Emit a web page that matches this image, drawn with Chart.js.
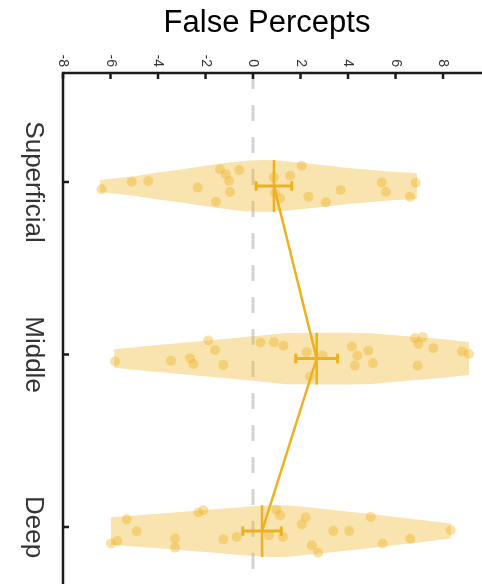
<!DOCTYPE html>
<html>
<head>
<meta charset="utf-8">
<script src="https://cdn.jsdelivr.net/npm/chart.js@4.4.1/dist/chart.umd.min.js"></script>
<style>
  html, body { margin: 0; padding: 0; background: #fff; }
  #wrap { width: 482px; height: 584px; }
</style>
</head>
<body>
<div id="wrap"><canvas id="myChart"></canvas></div>
<script>
// Layers, top to bottom
const categories = ['Superficial', 'Middle', 'Deep'];
const xTicks = [-8, -6, -4, -2, 0, 2, 4, 6, 8];

// mean and standard error per layer
const means = [0.88, 2.68, 0.38];
const errors = [0.75, 0.88, 0.81];

// single values (jitter is the vertical offset, in category units)
const superficialValues = [-6.37, -5.11, -4.41, -2.33, -1.56, -1.39, -1.14, -1.01, -0.97, -0.58, 0.88, 0.93, 1.14, 1.56, 2.05, 2.33, 3.07, 3.69, 5.42, 5.60, 6.61, 6.85];
const superficialJitter = [0.019, -0.025, -0.029, 0.008, 0.091, -0.097, -0.068, -0.029, 0.035, -0.093, -0.050, 0.042, 0.071, -0.060, -0.118, 0.062, 0.094, 0.023, -0.021, 0.033, 0.062, -0.019];

const middleValues = [-5.81, -3.45, -2.65, -2.51, -1.88, -1.60, -1.25, 0.32, 0.88, 1.28, 2.26, 2.40, 2.93, 4.16, 4.29, 4.39, 4.85, 5.04, 6.82, 6.93, 6.96, 7.15, 7.59, 8.79, 9.09];
const middleJitter = [0.017, 0.013, -0.002, 0.032, -0.104, -0.050, 0.037, -0.093, -0.095, -0.074, -0.037, 0.104, -0.017, -0.070, 0.041, -0.017, -0.045, 0.027, -0.118, 0.042, -0.085, -0.124, -0.060, -0.041, -0.026];

const deepValues = [-5.98, -5.71, -5.32, -4.90, -3.28, -3.28, -2.30, -2.09, -1.25, -0.69, 0.67, 0.98, 1.14, 1.26, 2.05, 2.22, 2.47, 2.74, 3.38, 4.05, 4.96, 5.46, 6.62, 8.32];
const deepJitter = [0.072, 0.058, -0.068, 0.001, 0.043, 0.096, -0.107, -0.121, 0.048, 0.034, 0.024, -0.123, -0.092, 0.034, -0.038, -0.078, 0.082, 0.125, -0.001, -0.001, -0.082, 0.072, 0.045, -0.005];

// violin outlines: position and relative density
const superficialViolinX = [-6.44, -5, -4, -3, -2, -1, -0.3, 0.5, 1.2, 2, 3, 4, 5, 6, 6.9];
const superficialViolinW = [0.23, 0.38, 0.52, 0.64, 0.78, 0.91, 0.98, 1.0, 0.98, 0.9, 0.8, 0.7, 0.62, 0.54, 0.5];
const middleViolinX = [-5.84, -4, -2, 0, 1.4, 3, 4, 5, 6, 7, 8, 9.09];
const middleViolinW = [0.36, 0.52, 0.69, 0.86, 0.99, 1.0, 1.0, 0.98, 0.9, 0.82, 0.74, 0.64];
const deepViolinX = [-5.98, -4, -2, 0, 0.8, 1.5, 2, 3, 4.5, 6, 7, 8.32];
const deepViolinW = [0.53, 0.67, 0.81, 0.96, 1.0, 0.99, 0.95, 0.85, 0.7, 0.54, 0.44, 0.29];

const DODGE = 0.023;   // data sits a bit below the tick
const HALF = 0.15;     // max half width of a violin
const CAP = 0.027;
const GOLD = 'rgb(237, 177, 32)';
const Y_MIN = 0.368, Y_MAX = 3.33;

const violins = [
  [superficialViolinX, superficialViolinW],
  [middleViolinX, middleViolinW],
  [deepViolinX, deepViolinW]
];
const values = [superficialValues, middleValues, deepValues];
const jitters = [superficialJitter, middleJitter, deepJitter];

function segment(points, width, order) {
  return { type: 'line', data: points, showLine: true, borderColor: GOLD, borderWidth: width,
           pointRadius: 0, fill: false, order: order };
}

const datasets = [];

// zero reference
datasets.push({ type: 'line', data: [{ x: 0, y: Y_MIN }, { x: 0, y: Y_MAX }], showLine: true,
  borderColor: '#d4d4d4', borderWidth: 3, borderDash: [16, 16], pointRadius: 0, fill: false, order: 10 });

categories.forEach((c, i) => {
  const pos = i + 1 + DODGE;
  const xs = violins[i][0], ws = violins[i][1];
  const up = xs.map((x, k) => ({ x: x, y: pos - ws[k] * HALF }));
  const down = xs.map((x, k) => ({ x: x, y: pos + ws[k] * HALF })).reverse();
  datasets.push({ type: 'line', data: up.concat(down, [up[0]]), showLine: true, borderWidth: 0,
    borderColor: 'rgba(0,0,0,0)', backgroundColor: 'rgba(237, 177, 32, 0.36)', fill: 'shape',
    pointRadius: 0, tension: 0, order: 9 });

  datasets.push({ type: 'scatter', data: values[i].map((v, k) => ({ x: v, y: pos + jitters[i][k] })),
    pointRadius: 5, pointBorderWidth: 0, pointBackgroundColor: 'rgba(237, 177, 32, 0.4)', order: 8 });

  // mean bar and error bar
  const m = means[i], e = errors[i];
  datasets.push(segment([{ x: m, y: pos - HALF }, { x: m, y: pos + HALF }], 2.5, 2));
  datasets.push(segment([{ x: m - e, y: pos }, { x: m + e, y: pos }], 3, 1));
  datasets.push(segment([{ x: m - e, y: pos - CAP }, { x: m - e, y: pos + CAP }], 3, 1));
  datasets.push(segment([{ x: m + e, y: pos - CAP }, { x: m + e, y: pos + CAP }], 3, 1));
});

// line joining the means
datasets.push(segment(means.map((m, i) => ({ x: m, y: i + 1 + DODGE })), 2.5, 1));

// axes, ticks and text drawn on top
const axesPlugin = {
  id: 'axesPlugin',
  afterDraw(chart) {
    const { ctx, chartArea: a, scales: { x, y } } = chart;
    ctx.save();
    ctx.fillStyle = '#000';
    ctx.font = '31px "Liberation Sans", Arial, sans-serif';
    ctx.textAlign = 'center';
    ctx.textBaseline = 'alphabetic';
    ctx.fillText('False Percepts', 267, 32);

    ctx.strokeStyle = '#1a1a1a';
    ctx.lineWidth = 2.5;
    ctx.beginPath();
    ctx.moveTo(a.left, a.bottom);
    ctx.lineTo(a.left, a.top);
    ctx.lineTo(a.right, a.top);
    ctx.stroke();

    ctx.beginPath();
    xTicks.forEach(v => {
      const px = x.getPixelForValue(v);
      ctx.moveTo(px, a.top);
      ctx.lineTo(px, a.top + 6);
    });
    categories.forEach((c, i) => {
      const py = y.getPixelForValue(i + 1);
      ctx.moveTo(a.left, py);
      ctx.lineTo(a.left + 6, py);
    });
    ctx.stroke();

    ctx.fillStyle = '#333';
    ctx.font = '14px "Liberation Sans", Arial, sans-serif';
    xTicks.forEach(v => {
      ctx.save();
      ctx.translate(x.getPixelForValue(v), a.top - 6);
      ctx.rotate(Math.PI / 2);
      ctx.textAlign = 'right';
      ctx.textBaseline = 'middle';
      ctx.fillText(String(v), 0, 0);
      ctx.restore();
    });

    ctx.font = '26px "Liberation Sans", Arial, sans-serif';
    categories.forEach((c, i) => {
      ctx.save();
      ctx.translate(33, y.getPixelForValue(i + 1));
      ctx.rotate(Math.PI / 2);
      ctx.textAlign = 'center';
      ctx.textBaseline = 'middle';
      ctx.fillText(c, 0, 0);
      ctx.restore();
    });
    ctx.restore();
  }
};

new Chart(document.getElementById('myChart'), {
  type: 'scatter',
  data: { datasets: datasets },
  options: {
    responsive: true,
    maintainAspectRatio: false,
    animation: false,
    events: [],
    layout: { autoPadding: false, padding: { left: 63, top: 73, right: 0, bottom: 0 } },
    plugins: { legend: { display: false }, tooltip: { enabled: false }, title: { display: false } },
    scales: {
      x: { type: 'linear', display: false, min: -8, max: 9.64 },
      y: { type: 'linear', display: false, reverse: true, min: Y_MIN, max: Y_MAX }
    }
  },
  plugins: [axesPlugin]
});
</script>
</body>
</html>
